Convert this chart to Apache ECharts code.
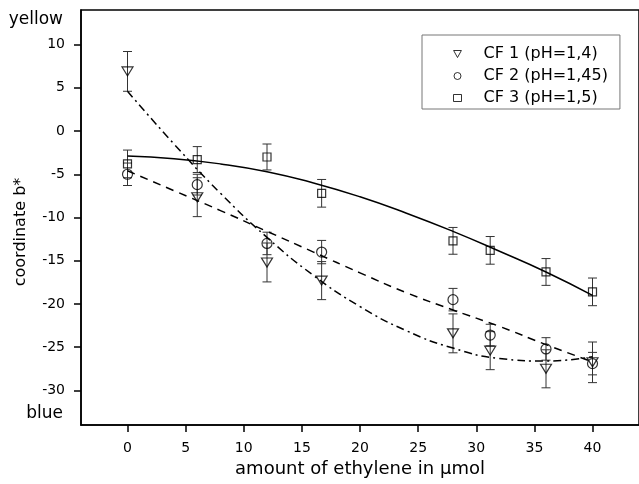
<!DOCTYPE html>
<html>
<head>
<meta charset="utf-8">
<script src="https://cdn.jsdelivr.net/npm/echarts@6/dist/echarts.min.js"></script>
<style>
    html, body { margin: 0; padding: 0; background: #fff; }
    #chart { width: 639px; height: 484px; }
</style>
</head>
<body>
<div id="chart"></div>
<script>
// measured points (x = amount of ethylene)
const xVals = [0, 6, 12, 16.7, 28, 31.2, 36, 40];
const cf1 = [6.9, -7.65, -15.2, -17.3, -23.4, -25.4, -27.5, -26.75];
const cf1Err = [2.3, 2.25, 2.25, 2.2, 2.25, 2.2, 2.2, 2.35];
const cf2 = [-5.0, -6.2, -13.0, -14.0, -19.5, -23.6, -25.2, -26.9];
const cf2Err = [1.3, 1.2, 1.3, 1.35, 1.3, 1.25, 1.3, 1.3];
const cf3 = [-3.8, -3.3, -3.0, -7.2, -12.7, -13.8, -16.3, -18.6];
const cf3Err = [1.6, 1.5, 1.5, 1.6, 1.55, 1.6, 1.55, 1.6];

// fit curves
const fitX = [0, 4, 8, 12, 16, 20, 24, 28, 32, 36, 40];
const fit1 = [4.6, -1.5, -7.2, -12.3, -16.7, -20.3, -23.1, -25.1, -26.3, -26.6, -26.1];
const fit2 = [-4.6, -6.9, -9.2, -11.6, -14.0, -16.4, -18.7, -20.7, -22.6, -24.7, -26.7];
const fit3 = [-2.9, -3.2, -3.8, -4.7, -6.0, -7.6, -9.5, -11.6, -13.9, -16.3, -19.0];

const names = ["CF 1 (pH=1,4)", "CF 2 (pH=1,45)", "CF 3 (pH=1,5)"];
const xTicks = [0, 5, 10, 15, 20, 25, 30, 35, 40];
const yTicks = [-30, -25, -20, -15, -10, -5, 0, 5, 10];

const FONT = "DejaVu Sans";
const triDown = "path://M0,0L10,0L5,9Z";

function pairs(xs, ys) {
    return xs.map((x, i) => [x, ys[i]]);
}

function errData(ys, errs) {
    return xVals.map((x, i) => [x, ys[i] - errs[i], ys[i] + errs[i]]);
}

function renderErr(params, api) {
    const lo = api.coord([api.value(0), api.value(1)]);
    const hi = api.coord([api.value(0), api.value(2)]);
    const w = 4.5;
    const style = { stroke: "#333", lineWidth: 1 };
    return {
        type: "group",
        children: [
            { type: "line", shape: { x1: lo[0], y1: lo[1], x2: hi[0], y2: hi[1] }, style: style },
            { type: "line", shape: { x1: lo[0] - w, y1: lo[1], x2: lo[0] + w, y2: lo[1] }, style: style },
            { type: "line", shape: { x1: hi[0] - w, y1: hi[1], x2: hi[0] + w, y2: hi[1] }, style: style },
        ],
    };
}

function errSeries(ys, errs) {
    return {
        type: "custom",
        renderItem: renderErr,
        encode: { x: 0, y: [1, 2] },
        data: errData(ys, errs),
        silent: true,
        z: 2,
    };
}

function fitSeries(ys, dash) {
    return {
        type: "line",
        data: pairs(fitX, ys),
        smooth: true,
        showSymbol: false,
        silent: true,
        lineStyle: { color: "#000", width: 1.5, type: dash },
        z: 3,
    };
}

const markerStyle = { color: "rgba(0,0,0,0)", borderColor: "#000", borderWidth: 1.2 };

const chart = echarts.init(document.getElementById("chart"), null, { renderer: "canvas" });

chart.setOption({
    animation: false,
    backgroundColor: "#fff",
    grid: {
        left: 81,
        top: 10,
        width: 563,
        height: 415,
        show: true,
        borderColor: "#000",
        borderWidth: 1.5,
        containLabel: false,
    },
    legend: {
        orient: "vertical",
        left: 422,
        top: 35,
        data: [
            { name: names[0], icon: triDown, itemStyle: { borderWidth: 1 } },
            { name: names[1], icon: "circle", itemStyle: { borderWidth: 1 } },
            { name: names[2], icon: "rect", itemStyle: { borderWidth: 1 } },
        ],
        itemWidth: 8,
        itemHeight: 7,
        itemGap: 6,
        padding: [11, 12, 3, 31],
        borderColor: "#777",
        borderWidth: 1,
        textStyle: { fontFamily: FONT, fontSize: 16, color: "#000", padding: [0, 0, 0, 17] },
        selectedMode: false,
    },
    xAxis: {
        type: "value",
        min: -4,
        max: 44,
        name: "amount of ethylene in µmol",
        nameLocation: "middle",
        nameGap: 32,
        nameTextStyle: { fontFamily: FONT, fontSize: 18, color: "#000" },
        axisLine: { onZero: false, lineStyle: { color: "#000", width: 1.5 } },
        axisTick: { show: true, inside: false, length: 7, customValues: xTicks, lineStyle: { color: "#000", width: 1.5 } },
        axisLabel: { customValues: xTicks, margin: 16, fontFamily: FONT, fontSize: 14, color: "#000" },
        splitLine: { show: false },
    },
    yAxis: {
        type: "value",
        min: -34,
        max: 14,
        axisLine: { onZero: false, lineStyle: { color: "#000", width: 1.5 } },
        axisTick: { show: true, inside: false, length: 7, customValues: yTicks, lineStyle: { color: "#000", width: 1.5 } },
        axisLabel: { customValues: yTicks, margin: 16, fontFamily: FONT, fontSize: 14, color: "#000" },
        splitLine: { show: false },
    },
    graphic: [
        {
            type: "text",
            x: 63,
            y: 20,
            style: { text: "yellow", fontFamily: FONT, fontSize: 17, fill: "#000", align: "right", verticalAlign: "middle" },
        },
        {
            type: "text",
            x: 63,
            y: 414,
            style: { text: "blue", fontFamily: FONT, fontSize: 17, fill: "#000", align: "right", verticalAlign: "middle" },
        },
        {
            type: "text",
            x: 21,
            y: 232,
            rotation: Math.PI / 2,
            style: { text: "coordinate b*", fontFamily: FONT, fontSize: 16, fill: "#000", align: "center", verticalAlign: "middle" },
        },
    ],
    series: [
        fitSeries(fit1, [8, 4, 2, 4]),
        fitSeries(fit2, [8, 6]),
        fitSeries(fit3, "solid"),
        errSeries(cf1, cf1Err),
        errSeries(cf2, cf2Err),
        errSeries(cf3, cf3Err),
        {
            name: names[0],
            type: "scatter",
            data: pairs(xVals, cf1),
            symbol: triDown,
            symbolSize: [11, 9],
            itemStyle: markerStyle,
            z: 4,
        },
        {
            name: names[1],
            type: "scatter",
            data: pairs(xVals, cf2),
            symbol: "circle",
            symbolSize: 10,
            itemStyle: markerStyle,
            z: 4,
        },
        {
            name: names[2],
            type: "scatter",
            data: pairs(xVals, cf3),
            symbol: "rect",
            symbolSize: 8,
            itemStyle: markerStyle,
            z: 4,
        },
    ],
});
</script>
</body>
</html>
